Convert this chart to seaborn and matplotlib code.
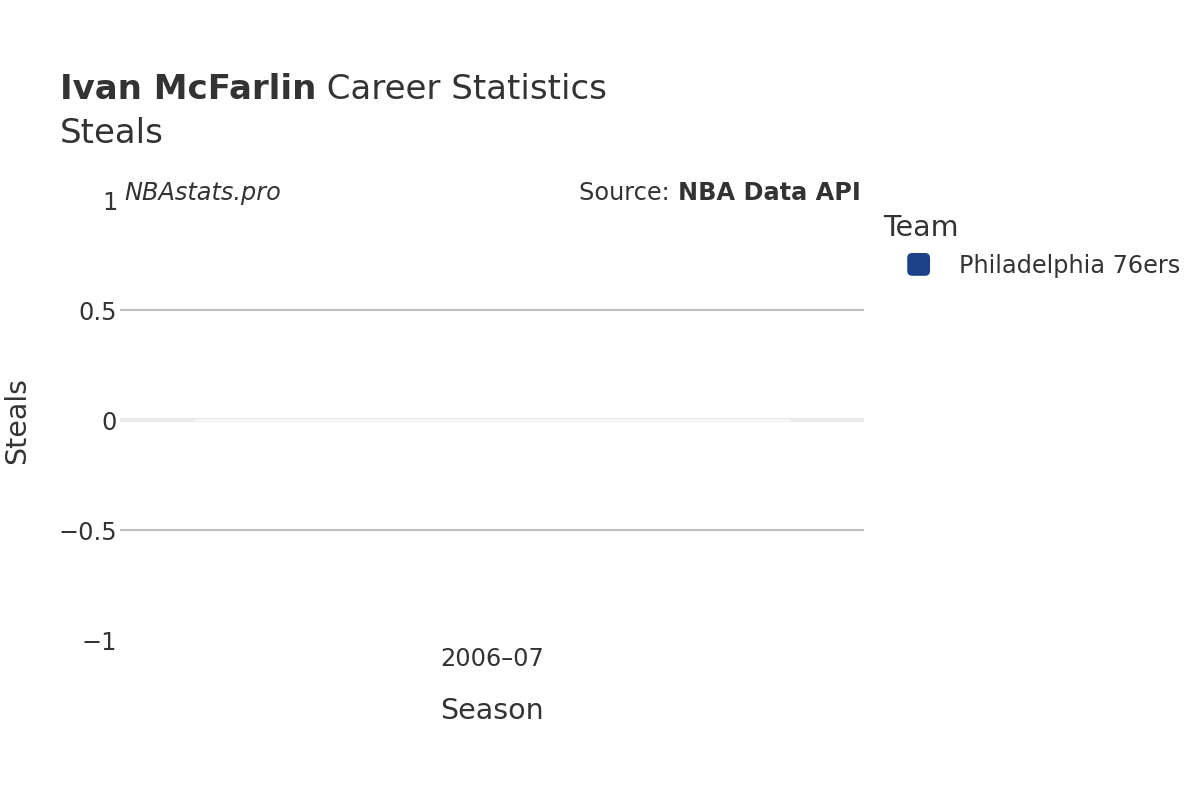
import pandas as pd
import matplotlib.pyplot as plt
import seaborn as sns
from matplotlib.patches import FancyBboxPatch
from matplotlib.legend_handler import HandlerPatch

# data
seasons = ['2006–07']
steals = [0]
teams = ['Philadelphia 76ers']
team_colors = {'Philadelphia 76ers': '#1d428a'}

df = pd.DataFrame({'Season': seasons, 'Steals': steals, 'Team': teams})

sns.set_style('white')
plt.rcParams['font.family'] = ['DejaVu Sans']
txt = '#333333'


class RoundBoxHandler(HandlerPatch):
    """rounded square drawn at the right end of the handle area"""
    def create_artists(self, legend, orig_handle, xdescent, ydescent,
                       width, height, fontsize, trans):
        side = 0.95 * fontsize
        x0 = -xdescent + width - side
        y0 = -ydescent + (height - side) / 2
        p = FancyBboxPatch((x0, y0), side, side,
                           boxstyle='round,pad=0,rounding_size=%f' % (side * 0.22),
                           facecolor=orig_handle.get_facecolor(), edgecolor='none',
                           transform=trans)
        return [p]


fig = plt.figure(figsize=(12, 8), dpi=100)
ax = fig.add_axes([0.1, 0.2, 0.62, 0.55])

sns.barplot(data=df, x='Season', y='Steals', hue='Team', palette=team_colors,
            width=0.8, saturation=1, ax=ax, legend=True)

ax.set_ylim(-1, 1)
ax.set_yticks([-1, -0.5, 0, 0.5, 1])
ax.set_yticklabels(['\u22121', '\u22120.5', '0', '0.5', '1'])
for y in [-0.5, 0.5]:
    ax.axhline(y, color='#bdbdbd', lw=1.5, zorder=0)
ax.axhline(0, color='#ececec', lw=3, zorder=0)
for s in ax.spines.values():
    s.set_visible(False)
ax.tick_params(axis='both', length=0, labelsize=17.3, colors=txt)
ax.tick_params(axis='y', pad=2)
ax.tick_params(axis='x', pad=5)

ax.set_xlabel('Season', fontsize=20.5, color=txt, labelpad=19)
ax.set_ylabel('')
fig.text(17 / 1200, 1 - 420 / 800, 'Steals', fontsize=20.5, color=txt,
         rotation=90, ha='center', va='center')

# legend
handles, labels = ax.get_legend_handles_labels()
ax.get_legend().remove()
leg = fig.legend(handles, labels, title='Team', loc='upper left',
                 bbox_to_anchor=(0.736, 0.733), frameon=False,
                 fontsize=17.3, title_fontsize=20.5, handlelength=1.95,
                 handleheight=1.0, handletextpad=1.2, borderaxespad=0,
                 borderpad=0, handler_map={type(handles[0]): RoundBoxHandler()})
leg._legend_box.align = 'left'
for t in leg.get_texts():
    t.set_color(txt)
leg.get_title().set_color(txt)

# titles
t1 = fig.text(0.05, 0.888, 'Ivan McFarlin', fontsize=24.5, fontweight='bold',
              color=txt, va='center')
t2 = fig.text(0.05, 0.888, ' Career Statistics', fontsize=24.5, color=txt,
              va='center')
fig.text(0.05, 0.833, 'Steals', fontsize=24.5, color=txt, va='center')

fig.text(0.104, 0.759, 'NBAstats.pro', fontsize=17.3, style='italic', color=txt,
         va='center')
s1 = fig.text(0.717, 0.759, 'Source: ', fontsize=17.3, color=txt, va='center')
s2 = fig.text(0.717, 0.759, 'NBA Data API', fontsize=17.3, fontweight='bold',
              color=txt, va='center')

# place the mixed-weight pieces next to each other
fig.canvas.draw()
r = fig.canvas.get_renderer()
W = fig.bbox.width
t2.set_x(0.05 + t1.get_window_extent(r).width / W)
w2 = s2.get_window_extent(r).width / W
w1 = s1.get_window_extent(r).width / W
s2.set_x(0.717 - w2)
s1.set_x(0.717 - w2 - w1)

fig.savefig('out.png', dpi=100)
